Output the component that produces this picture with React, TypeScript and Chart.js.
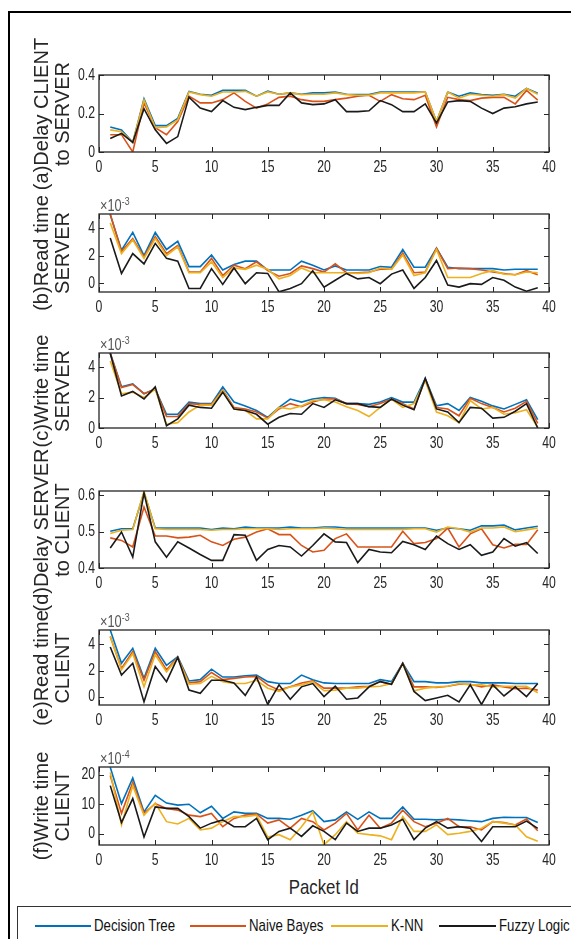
import React, { useEffect, useRef } from "react";
import { Chart, registerables } from "chart.js";

Chart.register(...registerables);

// ---------- data ----------
const packetIds = [1, 2, 3, 4, 5, 6, 7, 8, 9, 10, 11, 12, 13, 14, 15, 16, 17, 18, 19, 20, 21, 22, 23, 24, 25, 26, 27, 28, 29, 30, 31, 32, 33, 34, 35, 36, 37, 38, 39];
const xTickValues = [0, 5, 10, 15, 20, 25, 30, 35, 40];
const seriesNames = ["Decision Tree", "Naive Bayes", "K-NN", "Fuzzy Logic"];
const seriesColors = ["#0072BD", "#D95319", "#EDB120", "#1a1a1a"];

// (a) Delay CLIENT to SERVER
const aDecisionTree = [0.13, 0.115, 0.05, 0.277, 0.137, 0.137, 0.175, 0.315, 0.3, 0.295, 0.32, 0.32, 0.32, 0.29, 0.316, 0.3, 0.307, 0.3, 0.307, 0.307, 0.312, 0.3, 0.298, 0.298, 0.312, 0.312, 0.312, 0.312, 0.312, 0.158, 0.312, 0.29, 0.307, 0.298, 0.295, 0.3, 0.29, 0.33, 0.305];
const aNaiveBayes = [0.09, 0.09, 0.0, 0.255, 0.126, 0.09, 0.158, 0.29, 0.255, 0.255, 0.272, 0.307, 0.263, 0.228, 0.25, 0.284, 0.29, 0.272, 0.263, 0.263, 0.272, 0.28, 0.29, 0.295, 0.263, 0.298, 0.277, 0.272, 0.295, 0.13, 0.284, 0.272, 0.267, 0.28, 0.284, 0.284, 0.25, 0.32, 0.27];
const aKNN = [0.115, 0.105, 0.05, 0.27, 0.126, 0.13, 0.167, 0.312, 0.298, 0.29, 0.312, 0.312, 0.315, 0.29, 0.312, 0.3, 0.307, 0.298, 0.3, 0.3, 0.307, 0.298, 0.295, 0.295, 0.307, 0.307, 0.307, 0.307, 0.312, 0.158, 0.312, 0.28, 0.3, 0.295, 0.29, 0.298, 0.28, 0.33, 0.3];
const aFuzzy = [0.07, 0.097, 0.05, 0.225, 0.115, 0.045, 0.08, 0.285, 0.228, 0.21, 0.267, 0.232, 0.22, 0.232, 0.242, 0.242, 0.307, 0.255, 0.246, 0.25, 0.272, 0.21, 0.21, 0.214, 0.267, 0.246, 0.21, 0.21, 0.25, 0.15, 0.26, 0.267, 0.263, 0.228, 0.2, 0.228, 0.235, 0.25, 0.26];

// (b) Read time SERVER (x10^-3)
const bDecisionTree = [5.0, 2.4, 3.7, 2.0, 3.7, 2.45, 3.05, 1.2, 1.2, 2.05, 0.95, 1.35, 1.6, 1.6, 0.95, 0.95, 0.95, 1.6, 1.3, 0.95, 1.25, 0.95, 0.95, 0.95, 1.2, 1.15, 2.45, 1.15, 1.15, 2.55, 1.15, 1.05, 1.05, 1.05, 1.05, 0.95, 1.0, 1.0, 1.0];
const bNaiveBayes = [5.05, 2.3, 3.25, 1.9, 3.4, 2.15, 2.75, 0.8, 0.8, 1.8, 0.55, 1.3, 1.05, 1.55, 0.9, 0.5, 0.7, 1.25, 1.05, 0.8, 1.4, 0.75, 0.75, 0.8, 1.0, 1.0, 2.2, 0.75, 0.8, 2.55, 1.05, 1.1, 1.05, 0.95, 0.8, 0.7, 0.6, 0.9, 0.6];
const bKNN = [4.4, 2.15, 3.15, 1.8, 3.25, 2.0, 2.65, 0.75, 0.75, 1.55, 0.4, 1.1, 1.0, 1.3, 1.0, 0.3, 0.55, 1.1, 0.75, 0.75, 0.75, 0.75, 0.7, 0.75, 1.1, 1.0, 2.05, 0.55, 0.75, 2.45, 0.4, 0.4, 0.4, 0.7, 0.9, 0.65, 0.6, 0.8, 0.75];
const bFuzzy = [3.3, 0.7, 2.15, 1.4, 2.9, 1.8, 1.6, -0.4, -0.4, 1.05, -0.1, 1.1, -0.05, 0.75, 0.7, -0.65, -0.4, -0.05, 0.9, -0.3, 0.2, 0.7, 0.3, 0.4, -0.05, 0.65, 0.95, -0.4, 0.4, 1.65, -0.15, -0.3, -0.05, -0.1, 0.4, 0.2, -0.3, -0.6, -0.35];

// (c) Write time SERVER (x10^-3)
const cDecisionTree = [4.9, 2.7, 2.9, 2.25, 2.55, 0.9, 0.9, 1.7, 1.6, 1.6, 2.7, 1.7, 1.45, 1.15, 0.7, 1.35, 1.9, 1.7, 1.9, 2.0, 1.95, 1.6, 1.6, 1.55, 1.7, 2.0, 1.7, 1.7, 3.25, 1.45, 1.6, 1.15, 2.0, 1.75, 1.45, 1.25, 1.55, 1.85, 0.55];
const cNaiveBayes = [4.9, 2.65, 2.85, 2.25, 2.55, 0.75, 0.75, 1.6, 1.55, 1.55, 2.5, 1.35, 1.25, 1.05, 0.65, 1.25, 1.6, 1.4, 1.7, 1.9, 1.9, 1.6, 1.55, 1.4, 1.6, 1.9, 1.6, 1.25, 3.2, 1.35, 1.25, 0.8, 1.95, 1.6, 1.35, 1.05, 1.3, 1.75, 0.3];
const cKNN = [4.4, 2.25, 2.35, 2.0, 2.55, 0.25, 0.35, 1.05, 1.5, 1.5, 2.45, 1.25, 1.15, 0.6, 0.6, 1.35, 1.25, 1.45, 1.8, 1.85, 1.7, 1.4, 1.15, 0.75, 1.35, 1.9, 1.35, 1.6, 3.1, 1.05, 0.8, 0.35, 1.8, 1.25, 1.35, 0.9, 1.0, 1.2, 0.05];
const cFuzzy = [4.9, 2.1, 2.4, 1.9, 2.7, 0.15, 0.6, 1.5, 1.35, 1.3, 2.35, 1.25, 1.15, 0.9, 0.25, 0.7, 0.95, 0.9, 1.6, 1.35, 1.85, 1.6, 1.6, 1.4, 1.35, 1.9, 1.5, 1.2, 3.25, 1.25, 1.05, 0.35, 1.35, 1.3, 0.65, 0.7, 1.1, 1.6, 0.0];

// (d) Delay SERVER to CLIENT
const dDecisionTree = [0.501, 0.508, 0.508, 0.607, 0.51, 0.51, 0.51, 0.51, 0.51, 0.506, 0.51, 0.508, 0.513, 0.51, 0.51, 0.51, 0.513, 0.51, 0.51, 0.513, 0.513, 0.51, 0.51, 0.51, 0.51, 0.51, 0.51, 0.51, 0.51, 0.504, 0.51, 0.508, 0.504, 0.516, 0.516, 0.518, 0.505, 0.51, 0.515];
const dNaiveBayes = [0.483, 0.476, 0.458, 0.568, 0.488, 0.488, 0.483, 0.485, 0.49, 0.472, 0.462, 0.479, 0.485, 0.499, 0.508, 0.492, 0.492, 0.462, 0.444, 0.449, 0.481, 0.494, 0.458, 0.458, 0.458, 0.458, 0.501, 0.467, 0.47, 0.481, 0.51, 0.458, 0.494, 0.508, 0.464, 0.455, 0.465, 0.465, 0.505];
const dKNN = [0.495, 0.504, 0.506, 0.611, 0.508, 0.506, 0.506, 0.506, 0.506, 0.504, 0.506, 0.506, 0.508, 0.508, 0.508, 0.506, 0.508, 0.508, 0.508, 0.51, 0.508, 0.506, 0.506, 0.506, 0.506, 0.506, 0.506, 0.508, 0.508, 0.499, 0.513, 0.508, 0.499, 0.51, 0.51, 0.513, 0.5, 0.505, 0.51];
const dFuzzy = [0.455, 0.499, 0.43, 0.607, 0.472, 0.43, 0.472, 0.455, 0.437, 0.421, 0.421, 0.492, 0.49, 0.421, 0.451, 0.462, 0.458, 0.433, 0.462, 0.494, 0.472, 0.47, 0.415, 0.451, 0.444, 0.442, 0.473, 0.464, 0.451, 0.488, 0.467, 0.451, 0.464, 0.435, 0.444, 0.481, 0.46, 0.47, 0.44];

// (e) Read time CLIENT (x10^-3)
const eDecisionTree = [5.1, 2.55, 3.7, 1.4, 3.7, 2.4, 3.05, 1.2, 1.3, 2.1, 1.5, 1.5, 1.6, 1.65, 1.15, 1.0, 1.0, 1.65, 1.3, 1.05, 1.0, 1.0, 1.0, 1.0, 1.3, 1.15, 2.55, 1.15, 1.15, 1.05, 1.05, 1.15, 1.15, 1.05, 1.05, 1.05, 1.0, 1.0, 1.0];
const eNaiveBayes = [4.6, 2.15, 3.45, 1.25, 3.45, 2.05, 3.0, 1.05, 1.15, 1.85, 1.3, 1.4, 1.5, 1.55, 0.9, 0.5, 0.75, 1.05, 1.2, 0.65, 0.65, 0.65, 0.75, 0.8, 1.15, 0.95, 2.55, 0.75, 0.75, 0.7, 0.8, 0.95, 0.95, 0.75, 0.9, 0.75, 0.6, 0.65, 0.5];
const eKNN = [4.6, 2.05, 3.3, 0.75, 3.2, 1.9, 2.95, 0.95, 1.0, 1.55, 1.15, 1.0, 1.0, 1.25, 0.65, 0.4, 0.75, 0.9, 1.15, 0.45, 0.5, 0.65, 0.65, 0.75, 0.8, 1.0, 2.5, 0.45, 0.65, 0.75, 0.8, 1.0, 0.9, 0.9, 0.75, 0.8, 0.8, 0.8, 0.3];
const eFuzzy = [3.8, 1.65, 2.55, -0.4, 2.3, 1.15, 3.0, 0.5, 0.25, 1.25, 1.25, 1.05, 0.1, 1.5, -0.6, 0.9, -0.2, 0.75, 1.0, 0.0, 0.8, -0.2, -0.1, 0.75, 1.15, 0.95, 2.55, 0.4, -0.3, -0.1, 0.1, -0.4, 0.9, -0.6, 0.9, 0.05, 0.75, 0.0, 1.0];

// (f) Write time CLIENT (x10^-4)
const fDecisionTree = [22.5, 10.2, 18.9, 7.4, 13.0, 10.4, 9.7, 10.0, 7.1, 9.3, 5.2, 7.4, 6.9, 6.9, 5.2, 5.2, 4.9, 6.3, 7.8, 4.1, 4.7, 7.4, 4.9, 7.4, 5.2, 5.2, 9.1, 4.9, 4.9, 4.7, 4.9, 4.7, 4.4, 4.1, 5.2, 5.6, 5.5, 5.5, 3.8];
const fNaiveBayes = [19.7, 6.9, 17.4, 6.9, 10.2, 8.6, 8.0, 6.3, 5.8, 6.9, 2.4, 5.2, 6.3, 6.7, 3.6, 4.7, 1.9, 5.2, 4.1, 1.3, 3.6, 6.9, 1.3, 6.3, 1.9, 3.6, 8.0, 4.1, 2.4, 3.6, 5.2, 2.4, 2.4, 1.3, 4.1, 3.8, 3.0, 5.0, 1.0];
const fKNN = [20.8, 3.0, 16.3, 6.3, 10.4, 4.1, 3.3, 5.2, 1.3, 1.9, 4.1, 5.8, 5.8, 6.3, -1.1, -0.3, -2.0, 2.4, 7.4, -3.7, -0.3, 4.1, 0.2, -0.3, -0.7, -2.0, 5.8, 0.8, 0.8, 3.0, -0.3, 0.2, 0.8, 1.9, 4.1, 3.6, 3.0, -1.0, -2.5];
const fFuzzy = [16.3, 3.8, 11.9, -1.1, 9.1, 8.6, 8.6, 5.8, 1.9, 3.6, 4.7, 2.4, 2.4, 5.2, -2.0, 0.8, 1.9, -0.9, 2.7, 0.8, -2.0, 3.6, 0.8, 1.9, 1.9, 3.0, 4.9, -2.0, 1.9, 4.1, 1.9, 2.4, 1.9, -2.6, 2.4, 2.4, 2.4, 4.3, 1.8];

// y tick labels per panel
const aYTicks = [0, 0.2, 0.4];
const bYTicks = [0, 2, 4];
const cYTicks = [0, 2, 4];
const dYTicks = [0.4, 0.5, 0.6];
const eYTicks = [0, 2, 4];
const fYTicks = [0, 10, 20];

// ---------- layout ----------
const FONT = "'Liberation Sans', Arial, sans-serif";
const AXIS_COLOR = "#262626";
const PLOT_LEFT = 99;
const PLOT_RIGHT = 549;
const Y_AXIS_W = 45;
const X_AXIS_H = 26;
const PAD_TOP = 8;
const PAD_RIGHT = 15;
const TICK_FONT_SIZE = 17;
const TICK_SQUEEZE = 0.72;

type PanelDef = {
  top: number;
  bottom: number;
  series: number[][];
  yMin: number;
  yMax: number;
  yTicks: number[];
  title: [string, string];
  exponent?: string;
};

const panels: PanelDef[] = [
  { top: 75, bottom: 152, series: [aDecisionTree, aNaiveBayes, aKNN, aFuzzy], yMin: 0, yMax: 0.4, yTicks: aYTicks, title: ["(a)Delay CLIENT", "to SERVER"] },
  { top: 214, bottom: 292, series: [bDecisionTree, bNaiveBayes, bKNN, bFuzzy], yMin: -0.66, yMax: 5.05, yTicks: bYTicks, title: ["(b)Read time", "SERVER"], exponent: "-3" },
  { top: 353, bottom: 428, series: [cDecisionTree, cNaiveBayes, cKNN, cFuzzy], yMin: 0, yMax: 4.92, yTicks: cYTicks, title: ["(c)Write time", "SERVER"], exponent: "-3" },
  { top: 491, bottom: 568, series: [dDecisionTree, dNaiveBayes, dKNN, dFuzzy], yMin: 0.4, yMax: 0.612, yTicks: dYTicks, title: ["(d)Delay SERVER", "to CLIENT"] },
  { top: 630, bottom: 705, series: [eDecisionTree, eNaiveBayes, eKNN, eFuzzy], yMin: -0.64, yMax: 5.1, yTicks: eYTicks, title: ["(e)Read time", "CLIENT"], exponent: "-3" },
  { top: 767, bottom: 845, series: [fDecisionTree, fNaiveBayes, fKNN, fFuzzy], yMin: -3.8, yMax: 22.6, yTicks: fYTicks, title: ["(f)Write time", "CLIENT"], exponent: "-4" },
];

// MATLAB-like box, inward ticks and narrow tick labels, all placed by the chart's scales
const boxPlugin = {
  id: "matlabBox",
  afterDraw(chart: any) {
    const { ctx, chartArea } = chart;
    const { left, right, top, bottom } = chartArea;
    const xs = chart.scales.x;
    const ys = chart.scales.y;
    ctx.save();
    ctx.strokeStyle = AXIS_COLOR;
    ctx.lineWidth = 1.3;
    ctx.strokeRect(left, top, right - left, bottom - top);
    ctx.beginPath();
    const tl = 5;
    xs.ticks.forEach((t: any) => {
      const px = Math.round(xs.getPixelForValue(t.value)) + 0.5;
      ctx.moveTo(px, bottom);
      ctx.lineTo(px, bottom - tl);
      ctx.moveTo(px, top);
      ctx.lineTo(px, top + tl);
    });
    ys.ticks.forEach((t: any) => {
      const py = Math.round(ys.getPixelForValue(t.value)) + 0.5;
      ctx.moveTo(left, py);
      ctx.lineTo(left + tl, py);
      ctx.moveTo(right, py);
      ctx.lineTo(right - tl, py);
    });
    ctx.lineWidth = 1;
    ctx.stroke();

    ctx.fillStyle = AXIS_COLOR;
    ctx.font = `${TICK_FONT_SIZE}px ${FONT}`;
    xs.ticks.forEach((t: any) => {
      const px = xs.getPixelForValue(t.value);
      ctx.save();
      ctx.translate(px, bottom + 7);
      ctx.scale(TICK_SQUEEZE, 1);
      ctx.textAlign = "center";
      ctx.textBaseline = "top";
      ctx.fillText(String(t.value), 0, 0);
      ctx.restore();
    });
    ys.ticks.forEach((t: any) => {
      const py = ys.getPixelForValue(t.value);
      ctx.save();
      ctx.translate(left - 4, py);
      ctx.scale(TICK_SQUEEZE, 1);
      ctx.textAlign = "right";
      ctx.textBaseline = "middle";
      ctx.fillText(String(t.value), 0, 0);
      ctx.restore();
    });
    ctx.restore();
  },
};

function Panel({ def }: { def: PanelDef }) {
  const ref = useRef<HTMLCanvasElement>(null);
  const width = Y_AXIS_W + (PLOT_RIGHT - PLOT_LEFT) + PAD_RIGHT;
  const height = PAD_TOP + (def.bottom - def.top) + X_AXIS_H;

  useEffect(() => {
    if (!ref.current) return;
    const chart = new Chart(ref.current, {
      type: "line",
      data: {
        datasets: def.series.map((vals, si) => ({
          label: seriesNames[si],
          data: packetIds.map((x, i) => ({ x, y: vals[i] })),
          borderColor: seriesColors[si],
          backgroundColor: seriesColors[si],
          borderWidth: 1.6,
          pointRadius: 0,
          tension: 0,
          fill: false,
          order: 3 - si,
        })),
      },
      options: {
        animation: false,
        responsive: false,
        maintainAspectRatio: false,
        events: [],
        layout: { padding: { top: PAD_TOP, right: PAD_RIGHT, left: 0, bottom: 0 } },
        plugins: { legend: { display: false }, tooltip: { enabled: false } },
        scales: {
          x: {
            type: "linear",
            min: 0,
            max: 40,
            grid: { display: false, drawTicks: false },
            border: { display: false },
            afterBuildTicks: (s: any) => {
              s.ticks = xTickValues.map((v) => ({ value: v }));
            },
            afterFit: (s: any) => {
              s.height = X_AXIS_H;
            },
            ticks: { display: false },
          },
          y: {
            type: "linear",
            min: def.yMin,
            max: def.yMax,
            grid: { display: false, drawTicks: false },
            border: { display: false },
            afterBuildTicks: (s: any) => {
              s.ticks = def.yTicks.map((v) => ({ value: v }));
            },
            afterFit: (s: any) => {
              s.width = Y_AXIS_W;
            },
            ticks: { display: false },
          },
        },
      },
      plugins: [boxPlugin],
    } as any);
    return () => chart.destroy();
  }, []);

  return (
    <canvas
      ref={ref}
      width={width}
      height={height}
      style={{ position: "absolute", left: PLOT_LEFT - Y_AXIS_W, top: def.top - PAD_TOP, width, height }}
    />
  );
}

export default function App() {
  const legendItems = [
    { lineX: 35, lineW: 56, textX: 94 },
    { lineX: 190, lineW: 56, textX: 249 },
    { lineX: 331, lineW: 57, textX: 391 },
    { lineX: 439, lineW: 57, textX: 499 },
  ];
  return (
    <div style={{ position: "absolute", left: 0, top: 0, width: 571, height: 939, overflow: "hidden", background: "#fff" }}>
      {panels.map((p, i) => (
        <Panel key={i} def={p} />
      ))}
      {panels.map((p, i) =>
        p.exponent ? (
          <div
            key={"e" + i}
            style={{ position: "absolute", left: 100, top: p.top - 22, fontFamily: FONT, fontSize: 16, color: "#555", whiteSpace: "nowrap", lineHeight: "18px", transform: "scaleX(0.8)", transformOrigin: "left center" }}
          >
            ×10<sup style={{ fontSize: 11, verticalAlign: "6px" }}>{p.exponent}</sup>
          </div>
        ) : null
      )}
      {panels.map((p, i) => (
        <div
          key={"t" + i}
          style={{
            position: "absolute",
            left: 52,
            top: (p.top + p.bottom) / 2,
            transform: "translate(-50%, -50%) rotate(-90deg)",
            whiteSpace: "pre",
            textAlign: "center",
            fontFamily: FONT,
            fontSize: 20,
            lineHeight: "21px",
            color: AXIS_COLOR,
          }}
        >
          {p.title[0] + "\n" + p.title[1]}
        </div>
      ))}
      <div style={{ position: "absolute", left: PLOT_LEFT, width: PLOT_RIGHT - PLOT_LEFT, top: 875, textAlign: "center", lineHeight: "24px" }}>
        <span style={{ display: "inline-block", fontFamily: FONT, fontSize: 21, color: AXIS_COLOR, transform: "scaleX(0.8)" }}>Packet Id</span>
      </div>
      <div style={{ position: "absolute", left: 17, top: 906, width: 600, height: 50, border: "1px solid #333", background: "#fff" }} />
      {legendItems.map((it, i) => (
        <React.Fragment key={"l" + i}>
          <div style={{ position: "absolute", left: it.lineX, top: 925, width: it.lineW, height: 2, background: seriesColors[i] }} />
          <div style={{ position: "absolute", left: it.textX, top: 916, fontFamily: FONT, fontSize: 17, color: "#111", lineHeight: "20px", whiteSpace: "nowrap", transform: "scaleX(0.78)", transformOrigin: "left center" }}>
            {seriesNames[i]}
          </div>
        </React.Fragment>
      ))}
      <div style={{ position: "absolute", left: 0, top: 0, width: 571, height: 11, background: "#fff" }} />
      <div style={{ position: "absolute", left: 8, top: 11, width: 600, height: 2, background: "#000" }} />
      <div style={{ position: "absolute", left: 8, top: 11, width: 2, height: 940, background: "#000" }} />
    </div>
  );
}
